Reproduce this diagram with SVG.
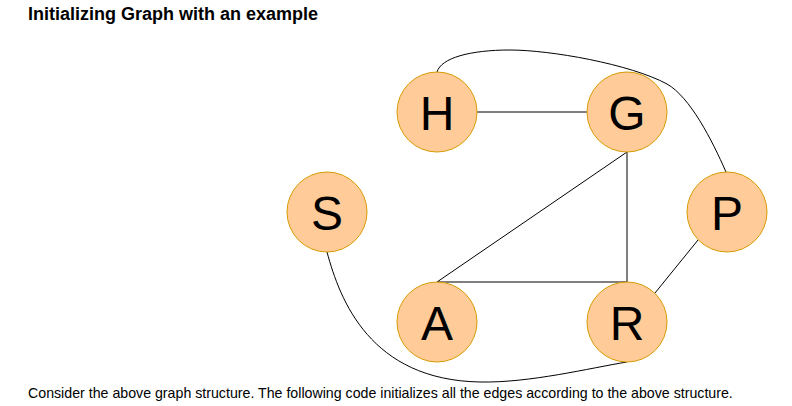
<svg xmlns="http://www.w3.org/2000/svg" width="792" height="406" viewBox="0 0 792 406">
<style>
.node circle{fill:#ffcc99;stroke:#d79b00;stroke-width:1}
.node text{font-family:"Liberation Sans",Arial,sans-serif;font-size:48px;fill:#000;text-anchor:middle}
.edges path,.edges line{fill:none;stroke:#000;stroke-width:1}
.t{font-family:"Liberation Sans",Arial,sans-serif;fill:#000}
</style>
<rect width="792" height="406" fill="#fff"/>
<text class="t" x="28" y="20" font-size="18" font-weight="bold">Initializing Graph with an example</text>
<g class="edges" id="edges">
<line x1="477" y1="112" x2="587" y2="112"/>
<line x1="627" y1="152" x2="437" y2="282"/>
<line x1="627" y1="152" x2="627" y2="282"/>
<line x1="437" y1="282" x2="627" y2="282"/>
<line x1="698" y1="240" x2="655" y2="293"/>
<path d="M437,72 C441,58 470,50 510,50 C550,50 630,64 667,84 C690,97 712,140 726,172"/>
<path d="M327,252 C340,300 370,380 480,382 C530,383 590,368 627,362"/>
</g>
<g class="node" id="node-H"><circle cx="437" cy="112" r="40"/><text x="437" y="130">H</text></g>
<g class="node" id="node-G"><circle cx="627" cy="112" r="40"/><text x="627" y="130">G</text></g>
<g class="node" id="node-S"><circle cx="327" cy="212" r="40"/><text x="327" y="230">S</text></g>
<g class="node" id="node-P"><circle cx="727" cy="212" r="40"/><text x="727" y="230">P</text></g>
<g class="node" id="node-A"><circle cx="437" cy="322" r="40"/><text x="437" y="340">A</text></g>
<g class="node" id="node-R"><circle cx="627" cy="322" r="40"/><text x="627" y="340">R</text></g>
<text class="t" x="28" y="398" font-size="14.2">Consider the above graph structure. The following code initializes all the edges according to the above structure.</text>
</svg>
